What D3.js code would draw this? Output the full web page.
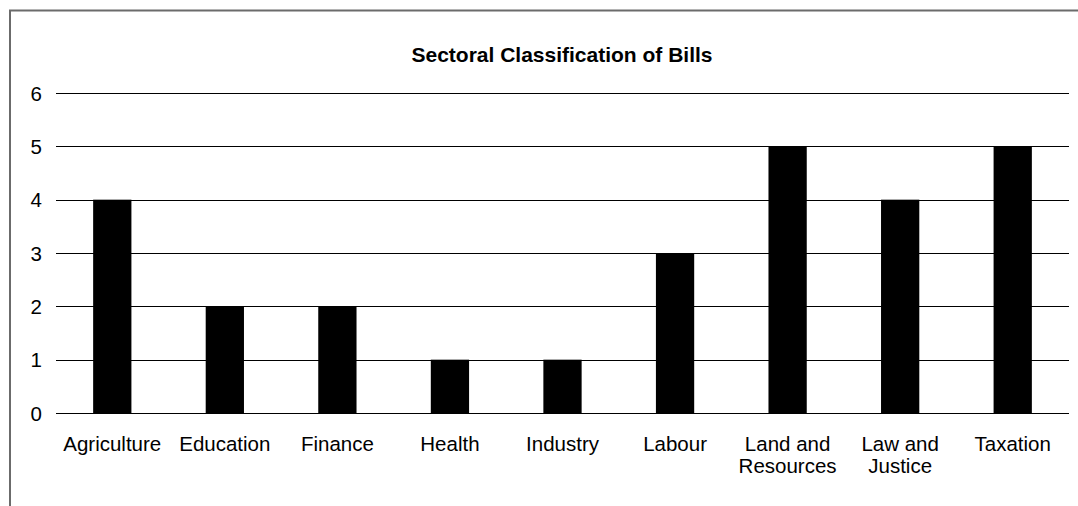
<!DOCTYPE html>
<html><head><meta charset="utf-8">
<script src="https://cdn.jsdelivr.net/npm/d3@7"></script>
<style>body{margin:0;background:#fff}svg{display:block}</style>
</head><body>
<svg id="c" width="1078" height="506"></svg>
<script>
const categories = ["Agriculture","Education","Finance","Health","Industry","Labour","Land and Resources","Law and Justice","Taxation"];
const categoryLines = [["Agriculture"],["Education"],["Finance"],["Health"],["Industry"],["Labour"],["Land and","Resources"],["Law and","Justice"],["Taxation"]];
const values = [4,2,2,1,1,3,5,4,5];
const yTicks = [0,1,2,3,4,5,6];
const title = "Sectoral Classification of Bills";

const svg = d3.select("#c");
const font = "'Liberation Sans', Arial, sans-serif";
// frame
svg.append("path").attr("d","M10,506 V10.5 H1078").attr("fill","none").attr("stroke","#6b6b6b").attr("stroke-width",2);

const x = d3.scaleBand().domain(categories).range([56,1069]).paddingInner(0.66).paddingOuter(0.33);
const y = d3.scaleLinear().domain([0,6]).range([413,93]);

svg.append("g").selectAll("line").data(yTicks).join("line")
  .attr("x1",56).attr("x2",1069).attr("y1",d=>Math.round(y(d))+0.5).attr("y2",d=>Math.round(y(d))+0.5)
  .attr("stroke","#000").attr("stroke-width",1);

svg.append("g").selectAll("text").data(yTicks).join("text")
  .attr("x",42).attr("y",d=>y(d)+7.5).attr("text-anchor","end")
  .attr("font-family",font).attr("font-size",20.5).text(d=>d);

svg.append("g").selectAll("rect").data(values).join("rect")
  .attr("x",(d,i)=>x(categories[i])).attr("width",x.bandwidth())
  .attr("y",d=>y(d)).attr("height",d=>y(0)-y(d)).attr("fill","#000");

const lab = svg.append("g");
categoryLines.forEach((lines,i)=>{
  const cx = x(categories[i]) + x.bandwidth()/2;
  const t = lab.append("text").attr("text-anchor","middle").attr("font-family",font).attr("font-size",20.5);
  lines.forEach((s,j)=>t.append("tspan").attr("x",cx).attr("y",451+j*21.5).text(s));
});

svg.append("text").attr("x",562).attr("y",62).attr("text-anchor","middle")
  .attr("font-family",font).attr("font-size",21).attr("font-weight","bold").text(title);
</script>
</body></html>
